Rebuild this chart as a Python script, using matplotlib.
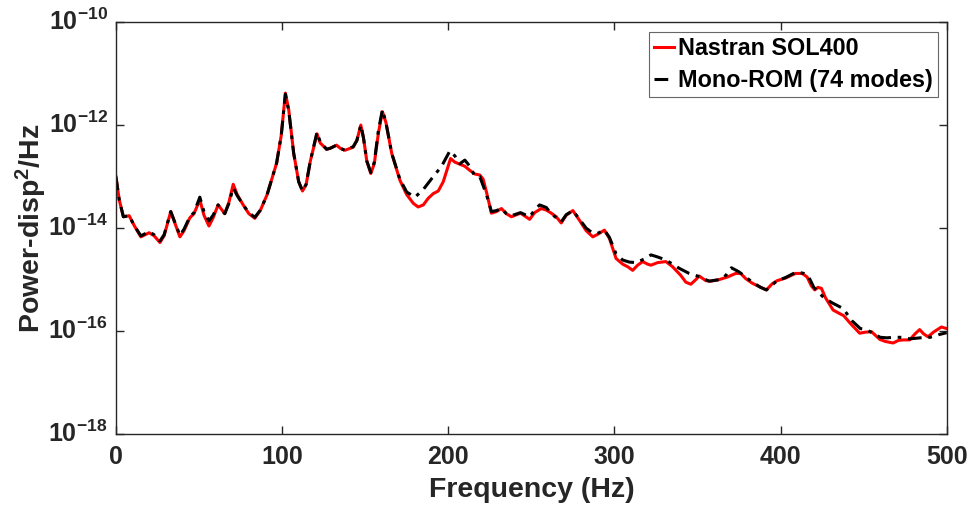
import numpy as np
import matplotlib
matplotlib.use("Agg")
import matplotlib.pyplot as plt

# Nastran SOL400 PSD (frequency in Hz, log10 of PSD)
nastran_freq = [0, 2, 4.5, 8, 11, 15, 20, 23, 26.5, 29, 33, 36, 38.5, 41, 44.5, 47, 50.5, 53, 56, 58.5,
                61.5, 65.5, 68, 70.6, 73, 76.6, 80, 83.6, 87, 91, 96.7, 99.5, 102, 104, 107, 110, 112.3,
                114.5, 117, 121, 123, 126.8, 129, 132.8, 135, 137.8, 142.8, 145, 147.4, 149, 151, 153.4,
                155.5, 158, 160.4, 162.5, 166, 170.9, 175, 179, 181.9, 185, 188, 191, 194, 197, 201.4,
                204, 207, 210, 213, 216, 219, 221, 223, 226, 229, 232, 235, 238, 243.5, 249, 252, 256,
                259, 262, 265, 268, 271, 275, 279, 283, 287, 290, 294, 297, 301, 305, 308, 311, 314, 317,
                320, 322, 326, 331, 335, 340, 343, 346, 349, 351, 355, 358, 363, 368, 373, 376, 379, 383,
                388, 391.5, 395, 398, 403, 409, 413, 416, 418.5, 420.6, 422.5, 424.6, 427, 431.6, 435,
                438, 442, 447.6, 451, 454.7, 459.7, 463, 467.7, 471, 474, 477.7, 481, 483.7, 486, 488.7,
                492, 496.8, 500]
nastran_log = [-13.00, -13.45, -13.78, -13.76, -13.95, -14.17, -14.09, -14.15, -14.28, -14.15, -13.68,
               -13.95, -14.17, -14.05, -13.80, -13.72, -13.45, -13.75, -13.96, -13.80, -13.55, -13.72,
               -13.50, -13.15, -13.35, -13.55, -13.72, -13.81, -13.65, -13.35, -12.74, -12.20, -11.38,
               -11.70, -12.55, -13.10, -13.28, -13.15, -12.70, -12.17, -12.35, -12.47, -12.45, -12.39,
               -12.45, -12.49, -12.43, -12.30, -12.00, -12.25, -12.70, -12.94, -12.75, -12.15, -11.74,
               -11.95, -12.55, -13.07, -13.35, -13.52, -13.59, -13.55, -13.42, -13.33, -13.28, -13.10,
               -12.65, -12.72, -12.76, -12.80, -12.88, -12.95, -12.97, -13.05, -13.30, -13.71, -13.68,
               -13.62, -13.72, -13.78, -13.71, -13.83, -13.70, -13.62, -13.65, -13.71, -13.78, -13.90,
               -13.75, -13.66, -13.85, -14.05, -14.17, -14.12, -14.04, -14.20, -14.59, -14.70, -14.75,
               -14.82, -14.72, -14.65, -14.70, -14.72, -14.67, -14.65, -14.75, -14.92, -15.05, -15.09,
               -15.00, -14.93, -15.02, -15.03, -15.00, -14.95, -14.88, -14.88, -14.98, -15.07, -15.15,
               -15.20, -15.08, -15.02, -14.97, -14.88, -14.88, -14.95, -15.12, -15.20, -15.15, -15.17,
               -15.35, -15.59, -15.65, -15.70, -15.85, -16.04, -16.02, -16.01, -16.16, -16.20, -16.23,
               -16.18, -16.17, -16.17, -16.05, -15.97, -16.05, -16.11, -16.02, -15.92, -15.95]

# Mono-ROM (74 modes) PSD
rom_freq = [0, 2, 4.5, 8, 11, 15, 20, 23, 26.5, 29, 33, 36, 38.5, 41, 44.5, 47, 50.5, 53, 56, 58.5,
            61.5, 65.5, 68, 70.6, 73, 76.6, 80, 83.6, 87, 91, 96.7, 99.5, 102, 104, 107, 110, 112.3,
            114.5, 117, 121, 123, 126.8, 129, 132.8, 135, 137.8, 142.8, 145, 147.4, 149, 151, 153.4,
            155.5, 158, 160.4, 162.5, 166, 170.9, 175, 180, 185, 191, 196, 201, 204, 207, 210, 213,
            216, 219, 223, 226, 229, 232, 235, 238, 243.5, 249, 252, 255, 259, 262, 265, 268, 271,
            275, 279, 283, 287, 290, 294, 297, 301, 305, 309, 313, 318, 322, 326, 331, 335, 339, 345,
            350, 357, 363.4, 367, 370.4, 375, 379, 383, 388, 391.5, 395, 398, 403, 409.6, 414, 417,
            420, 426, 431, 437.6, 443, 448, 451.7, 456, 460, 464, 467.7, 473, 478, 484, 490, 495, 500]
rom_log = [-13.00, -13.45, -13.78, -13.76, -13.95, -14.15, -14.07, -14.13, -14.25, -14.13, -13.68,
           -13.93, -14.14, -14.02, -13.78, -13.70, -13.40, -13.68, -13.86, -13.75, -13.55, -13.72,
           -13.52, -13.22, -13.37, -13.55, -13.70, -13.79, -13.65, -13.35, -12.74, -12.20, -11.40,
           -11.72, -12.55, -13.10, -13.28, -13.15, -12.70, -12.14, -12.33, -12.47, -12.45, -12.39,
           -12.45, -12.49, -12.42, -12.30, -12.00, -12.25, -12.70, -12.92, -12.72, -12.10, -11.70,
           -11.95, -12.55, -13.05, -13.30, -13.40, -13.25, -13.00, -12.80, -12.50, -12.60, -12.75,
           -12.68, -12.80, -12.99, -13.00, -13.35, -13.68, -13.66, -13.62, -13.72, -13.76, -13.70,
           -13.78, -13.65, -13.55, -13.60, -13.72, -13.80, -13.88, -13.74, -13.66, -13.83, -14.00,
           -14.10, -14.10, -14.04, -14.18, -14.50, -14.62, -14.66, -14.67, -14.60, -14.52, -14.56,
           -14.62, -14.70, -14.78, -14.88, -14.93, -15.03, -15.00, -14.92, -14.77, -14.85, -14.95,
           -15.05, -15.15, -15.20, -15.10, -15.02, -14.96, -14.85, -14.88, -14.95, -15.15, -15.35,
           -15.45, -15.56, -15.80, -15.95, -15.97, -16.05, -16.12, -16.13, -16.12, -16.12, -16.15,
           -16.13, -16.12, -16.07, -16.03]

plt.rcParams["font.family"] = ["Liberation Sans", "DejaVu Sans"]
plt.rcParams["font.weight"] = "bold"
plt.rcParams["mathtext.fontset"] = "custom"
plt.rcParams["mathtext.rm"] = "Liberation Sans:bold"
plt.rcParams["mathtext.bf"] = "Liberation Sans:bold"
plt.rcParams["mathtext.default"] = "bf"
plt.rcParams["axes.unicode_minus"] = False

fig = plt.figure(figsize=(9.74, 5.12), dpi=100)
ax = fig.add_axes([0.119, 0.152, 0.853, 0.805])

ax.plot(nastran_freq, 10.0 ** np.array(nastran_log), color="#ff0000", lw=2.2, label="Nastran SOL400")
ax.plot(rom_freq, 10.0 ** np.array(rom_log), color="black", lw=2.2, ls="-.", dashes=(4.5, 2.2, 1.2, 2.2),
        label="Mono-ROM (74 modes)")

ax.set_yscale("log")
ax.set_xlim(0, 500)
ax.set_ylim(1e-18, 1e-10)
ax.set_xticks([0, 100, 200, 300, 400, 500])
yt = [1e-18, 1e-16, 1e-14, 1e-12, 1e-10]
ax.set_yticks(yt)
ax.set_yticklabels(["$10^{\\mathrm{-%d}}$" % -int(np.log10(v)) for v in yt], va="center")
ax.minorticks_off()
ax.tick_params(direction="in", length=6, width=1, top=True, right=True, colors="#262626")
ax.tick_params(axis="x", labelsize=18, pad=8)
ax.tick_params(axis="y", labelsize=18, pad=6)
for s in ax.spines.values():
    s.set_linewidth(1)
    s.set_color("#262626")

ax.set_xlabel("Frequency (Hz)", fontsize=20.5, fontweight="bold", color="#262626")
ax.set_ylabel("Power-disp$^{2}$/Hz", fontsize=20.5, fontweight="bold", color="#262626")
ax.xaxis.set_label_coords(0.5, -0.104)
ax.yaxis.set_label_coords(-0.080, 0.5)

leg = ax.legend(loc="upper right", fontsize=16.8, handlelength=0.85, handletextpad=0.15, borderpad=0.22,
                labelspacing=0.38, borderaxespad=0, fancybox=False, framealpha=1, edgecolor="#666666",
                bbox_to_anchor=(0.989, 0.976))
leg.get_frame().set_linewidth(0.8)

fig.savefig("out.png", dpi=100)
